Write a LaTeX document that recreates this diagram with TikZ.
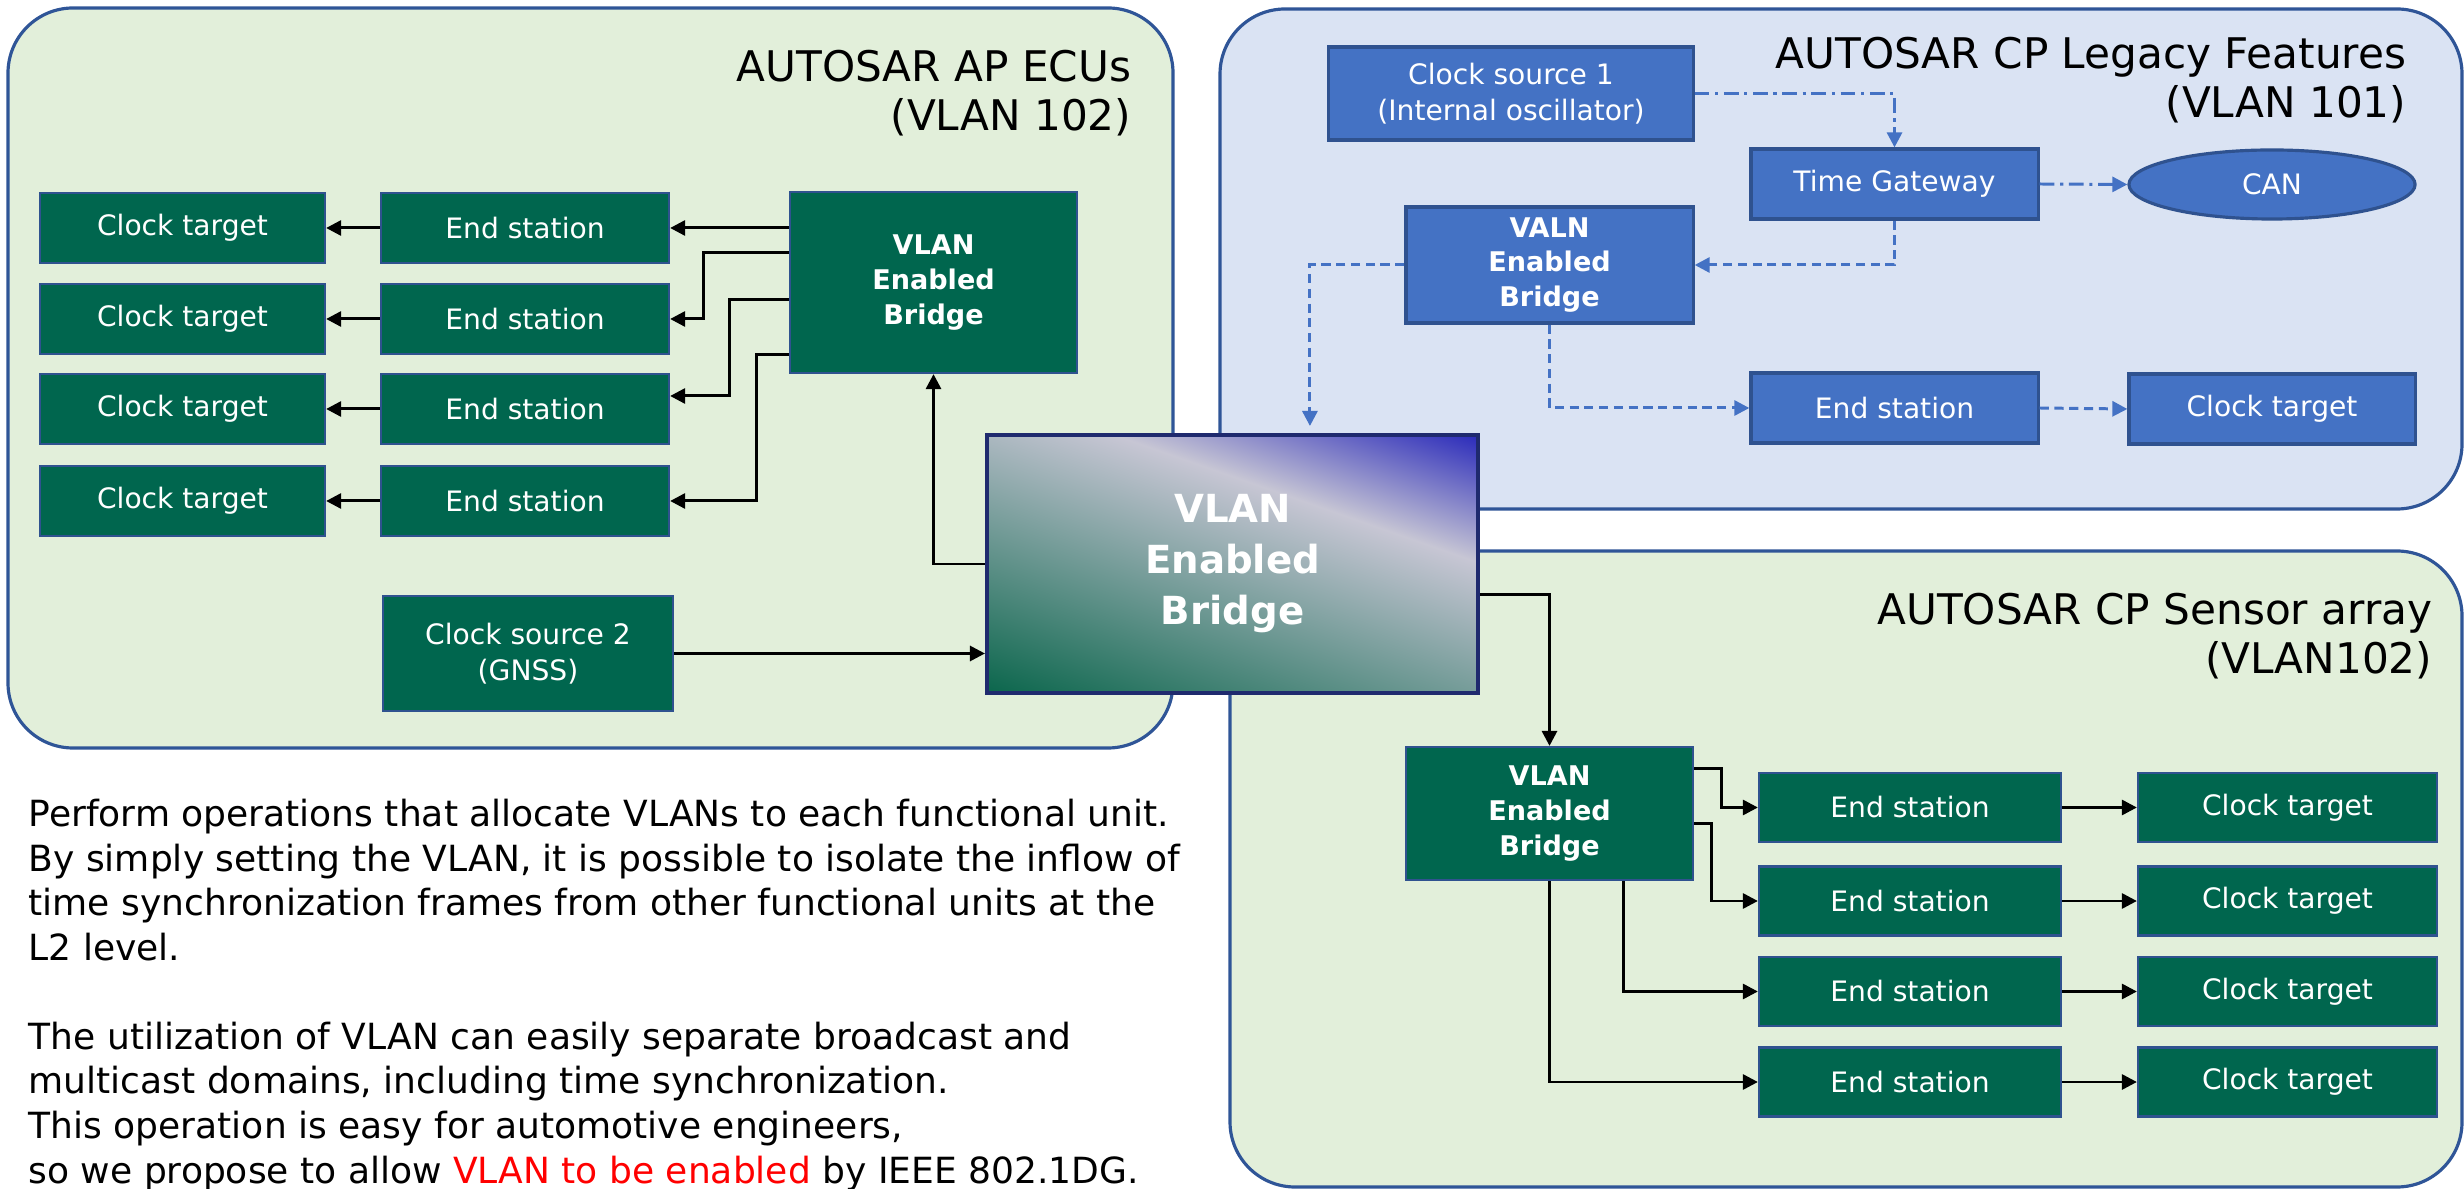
\documentclass[tikz,border=0pt]{standalone}
\usepackage{fontspec}
\setmainfont{DejaVu Sans}
\usetikzlibrary{arrows.meta,calc,positioning,shapes.geometric}
\definecolor{apgreen}{HTML}{E2EFDA}
\definecolor{cpblue}{HTML}{DAE3F3}
\definecolor{paneledge}{HTML}{2F5597}
\definecolor{ecugreen}{HTML}{00664E}
\definecolor{boxedge}{HTML}{2F528F}
\definecolor{legacyblue}{HTML}{4472C4}
\definecolor{bridgenavy}{HTML}{1F2A6E}
\definecolor{shgreen}{HTML}{0B664C}
\definecolor{shgrey}{HTML}{C7C6D4}
\definecolor{shblue}{HTML}{2A2ABA}
\definecolor{notered}{HTML}{FF0000}
% 6cm x 4.4cm, turned by -19.3 inside the central bridge
\pgfdeclareverticalshading{vlanshade}{170bp}{color(0bp)=(shgreen); color(4.9bp)=(shgreen); color(85.8bp)=(shgrey); color(119.9bp)=(shblue); color(124.7bp)=(shblue)}
\tikzset{
	panel/.style={draw=paneledge,line width=0.9pt,rounded corners=0.65cm},
	ecubox/.style={draw=boxedge,line width=0.6pt,fill=ecugreen,text=white,font=\fontsize{8}{10.2}\selectfont,align=center,inner sep=0pt,minimum height=0.7cm},
	bridgebox/.style={ecubox,font=\fontsize{7.7}{9.9}\selectfont\bfseries},
	legacybox/.style={ecubox,fill=legacyblue,line width=0.9pt},
	legacybridge/.style={bridgebox,fill=legacyblue,line width=0.9pt},
	paneltitle/.style={align=right,font=\fontsize{12}{14.2}\selectfont,inner sep=0pt},
	conn/.style={line width=0.85pt,-{Triangle[length=1.5mm,width=1.5mm]}},
	dconn/.style={conn,draw=legacyblue,dash pattern=on 2.6pt off 1.6pt},
	ddconn/.style={conn,draw=legacyblue,dash pattern=on 4.2pt off 1.6pt on 0.9pt off 1.6pt},
}
\begin{document}
\begin{tikzpicture}[x=0.01cm,y=-0.01cm]
	\useasboundingbox (0,0) rectangle (2464,1189);
	% panels
	\draw[panel,fill=apgreen] (8,8) rectangle (1173,748);
	\draw[panel,fill=cpblue] (1220,9) rectangle (2462,509);
	\draw[panel,fill=apgreen] (1230,551) rectangle (2462,1187);
	\node[paneltitle,anchor=base east] (aptitle) at (1132,131) {AUTOSAR AP ECUs\\(VLAN 102)};
	\node[paneltitle,anchor=base east] (cptitle) at (2407,118) {AUTOSAR CP Legacy Features\\(VLAN 101)};
	\node[paneltitle,anchor=base east] (sentitle) at (2433,674) {AUTOSAR CP Sensor array\\(VLAN102)};
	% AP ECUs
	\node[ecubox,minimum width=2.85cm] (ct1) at (182.5,228) {Clock target};
	\node[ecubox,minimum width=2.85cm] (ct2) at (182.5,319) {Clock target};
	\node[ecubox,minimum width=2.85cm] (ct3) at (182.5,409) {Clock target};
	\node[ecubox,minimum width=2.85cm] (ct4) at (182.5,501) {Clock target};
	\node[ecubox,minimum width=2.88cm] (es1) at (525,228) {End station};
	\node[ecubox,minimum width=2.88cm] (es2) at (525,319) {End station};
	\node[ecubox,minimum width=2.88cm] (es3) at (525,409) {End station};
	\node[ecubox,minimum width=2.88cm] (es4) at (525,501) {End station};
	\node[bridgebox,minimum width=2.87cm,minimum height=1.81cm] (lbr) at (933.5,282.5) {VLAN\\Enabled\\Bridge};
	\node[ecubox,minimum width=2.90cm,minimum height=1.15cm] (cs2) at (528,653.5) {Clock source 2\\(GNSS)};
	% CP legacy
	\node[legacybox,minimum width=3.64cm,minimum height=0.93cm] (cs1) at (1511,93.5) {Clock source 1\\(Internal oscillator)};
	\node[legacybox,minimum width=2.87cm] (tgw) at (1894.5,184) {Time Gateway};
	\node[legacybox,ellipse,minimum width=2.86cm,minimum height=0.69cm] (can) at (2272,184.5) {CAN};
	\node[legacybridge,minimum width=2.87cm,minimum height=1.16cm] (vbr) at (1549.5,265) {VALN\\Enabled\\Bridge};
	\node[legacybox,minimum width=2.87cm] (es5) at (1894.5,408) {End station};
	\node[legacybox,minimum width=2.86cm] (ct5) at (2272,409) {Clock target};
	% CP sensor array
	\node[bridgebox,minimum width=2.87cm,minimum height=1.33cm] (sbr) at (1549.5,813.5) {VLAN\\Enabled\\Bridge};
	\node[ecubox,minimum width=3.02cm,minimum height=0.69cm] (es6) at (1910,807.5) {End station};
	\node[ecubox,minimum width=3.02cm,minimum height=0.69cm] (es7) at (1910,901) {End station};
	\node[ecubox,minimum width=3.02cm,minimum height=0.69cm] (es8) at (1910,991.5) {End station};
	\node[ecubox,minimum width=3.02cm,minimum height=0.69cm] (es9) at (1910,1082) {End station};
	\node[ecubox,minimum width=2.99cm,minimum height=0.69cm] (ct6) at (2287.5,807.5) {Clock target};
	\node[ecubox,minimum width=2.99cm,minimum height=0.69cm] (ct7) at (2287.5,901) {Clock target};
	\node[ecubox,minimum width=2.99cm,minimum height=0.69cm] (ct8) at (2287.5,991.5) {Clock target};
	\node[ecubox,minimum width=2.99cm,minimum height=0.69cm] (ct9) at (2287.5,1082) {Clock target};
	% central bridge
	\node[draw=bridgenavy,line width=1.1pt,minimum width=4.91cm,minimum height=2.58cm,text=white,font=\fontsize{11}{14.5}\selectfont\bfseries,align=center,inner sep=0pt,
		path picture={\node[inner sep=0pt,rotate=-19.3] at (path picture bounding box.center) {\pgfuseshading{vlanshade}};}] (bigbr) at (1232.5,564) {VLAN\\Enabled\\Bridge};
	% AP ECUs links
	\draw[conn] (es1.west) -- (ct1.east);
	\draw[conn] (es2.west) -- (ct2.east);
	\draw[conn] (es3.west) -- (ct3.east);
	\draw[conn] (es4.west) -- (ct4.east);
	\draw[conn] (lbr.west |- es1.east) -- (es1.east);
	\draw[conn] ($(lbr.north west)+(0,62)$) -- ++(-85,0) |- (es2.east);
	\draw[conn] ($(lbr.north west)+(0,109)$) -- ++(-59,0) |- ($(es3.east)+(0,-13)$);
	\draw[conn] ($(lbr.south west)+(0,-20)$) -- ++(-32,0) |- (es4.east);
	\draw[conn] (bigbr.west) -| (lbr.south);
	\draw[conn] (cs2.east) -- (cs2.east -| bigbr.west);
	% CP legacy links
	\draw[ddconn] (cs1.east) -| (tgw.north);
	\draw[ddconn] (tgw.east) -- (can.west);
	\draw[dconn] (tgw.south) |- (vbr.east);
	\draw[dconn] (vbr.west) -| ($(bigbr.north west)+(325,-7)$);
	\draw[dconn] (vbr.south) |- (es5.west);
	\draw[dconn] (es5.east) -- (ct5.west);
	% CP sensor links
	\draw[conn] ($(bigbr.north east)+(0,162)$) -| (sbr.north);
	\draw[conn] ($(sbr.north east)+(0,23)$) -- ++(27,0) |- (es6.west);
	\draw[conn] ($(sbr.north east)+(0,78)$) -- ++(17,0) |- (es7.west);
	\draw[conn] ($(sbr.south)+(73.5,0)$) |- (es8.west);
	\draw[conn] (sbr.south) |- (es9.west);
	\draw[conn] (es6.east) -- (ct6.west);
	\draw[conn] (es7.east) -- (ct7.west);
	\draw[conn] (es8.east) -- (ct8.west);
	\draw[conn] (es9.east) -- (ct9.west);
	% note
	\node[anchor=base west,align=left,inner sep=0pt,font=\fontsize{10.25}{12.66}\selectfont] (note) at (28,1183) {Perform operations that allocate VLANs to each functional unit.\\By simply setting the VLAN, it is possible to isolate the inflow of\\time synchronization frames from other functional units at the\\L2 level.\\[12.66pt]The utilization of VLAN can easily separate broadcast and\\multicast domains, including time synchronization.\\This operation is easy for automotive engineers,\\so we propose to allow \textcolor{notered}{VLAN to be enabled} by IEEE 802.1DG.};
\end{tikzpicture}
\end{document}
